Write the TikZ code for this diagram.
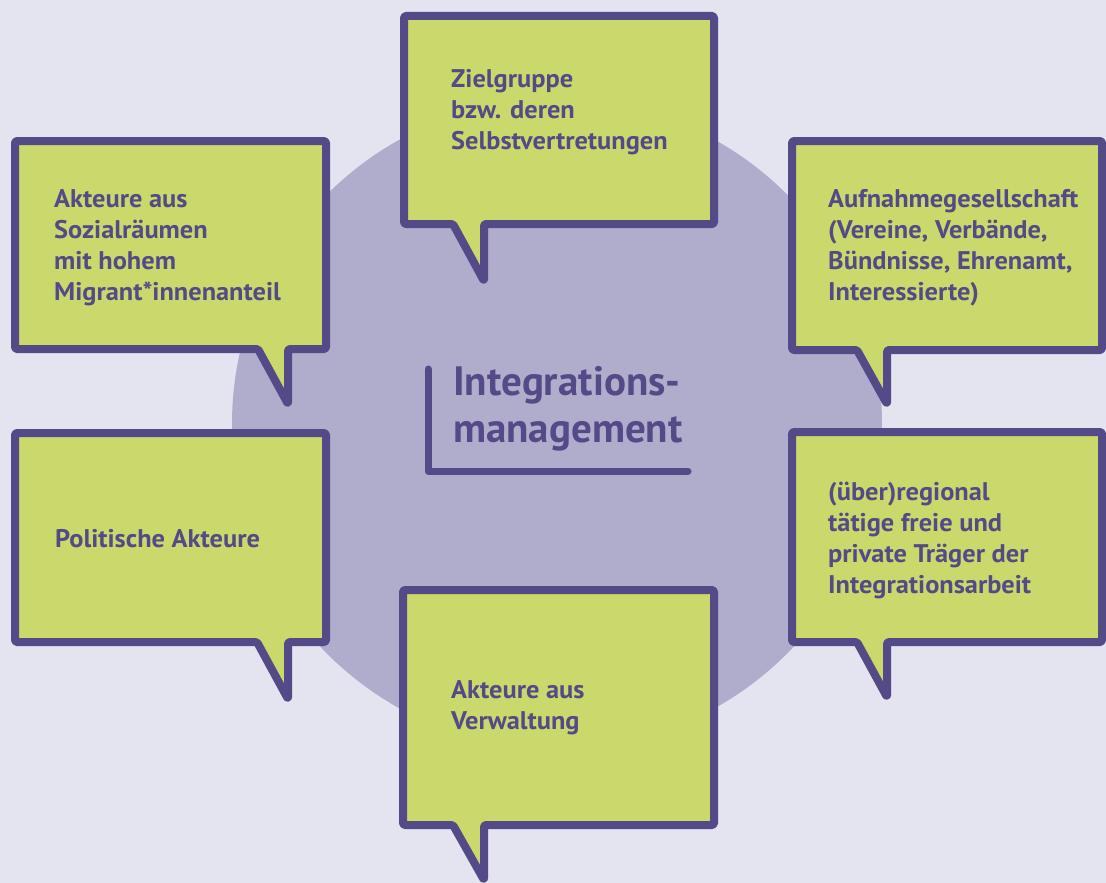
\documentclass[tikz,border=0pt]{standalone}
\usepackage{fontspec}
\setmainfont{PT Sans}
\newfontfamily\boxfont[FakeStretch=1.035]{PT Sans}
\definecolor{bgcol}{HTML}{E4E4F0}
\definecolor{circcol}{HTML}{B0ACCC}
\definecolor{boxcol}{HTML}{CBD86B}
\definecolor{inkcol}{HTML}{544A87}
\tikzset{
  bubble/.style={draw=inkcol, fill=boxcol, line width=8pt, line join=round, rounded corners=1.5pt},
  btext/.style={anchor=base west, inner sep=0pt, text=inkcol, font=\boxfont\bfseries\fontsize{25.5}{31}\selectfont},
  ctext/.style={anchor=base west, inner sep=0pt, text=inkcol, font=\bfseries\fontsize{41}{47}\selectfont},
}
\newcommand{\btxt}[1]{\parbox[t]{9cm}{\raggedright #1}}
\begin{document}
\begin{tikzpicture}[x=1pt,y=-1pt]
\useasboundingbox (0,0) rectangle (1106,883);
\fill[bgcol] (0,0) rectangle (1106,883);
\fill[circcol] (557,424) circle[radius=325];
% top
\draw[bubble] (404,16) -- (714,16) -- (714,224) -- (484,224) -- (484,281) -- (453,224) -- (404,224) -- cycle;
\node[btext] (t1) at (451,88) {\btxt{Zielgruppe\\bzw. deren\\Selbstvertretungen}};
% top-left
\draw[bubble] (15,141) -- (326,141) -- (326,349) -- (288,349) -- (288,404) -- (258,349) -- (15,349) -- cycle;
\node[btext] (t2) at (54,207) {\btxt{Akteure aus\\Sozialräumen\\mit hohem\\Migrant*innenanteil}};
% top-right
\draw[bubble] (792,141) -- (1102,141) -- (1102,350) -- (887,350) -- (887,404) -- (857,350) -- (792,350) -- cycle;
\node[btext] (t3) at (828,207) {\btxt{Aufnahmegesellschaft\\(Vereine, Verbände,\\Bündnisse, Ehrenamt,\\Interessierte)}};
% left-mid
\draw[bubble] (15,433) -- (326,433) -- (326,642) -- (288,642) -- (288,699) -- (257,642) -- (15,642) -- cycle;
\node[btext] (t4) at (55,547) {\btxt{Politische Akteure}};
% right-mid
\draw[bubble] (792,432) -- (1102,432) -- (1102,642) -- (887,642) -- (887,697) -- (857,642) -- (792,642) -- cycle;
\node[btext] (t5) at (828,500) {\btxt{(über)regional\\tätige freie und\\private Träger der\\Integrationsarbeit}};
% bottom
\draw[bubble] (403,590) -- (714,590) -- (714,825) -- (484,825) -- (484,880) -- (453,825) -- (403,825) -- cycle;
\node[btext] (t6) at (451,698) {\btxt{Akteure aus\\Verwaltung}};
% center
\draw[draw=inkcol, line width=7pt, line cap=round, line join=round] (428,369) -- (428,471) -- (688,471);
\node[ctext] (c) at (453,395) {\btxt{Integrations-\\management}};
\end{tikzpicture}
\end{document}
